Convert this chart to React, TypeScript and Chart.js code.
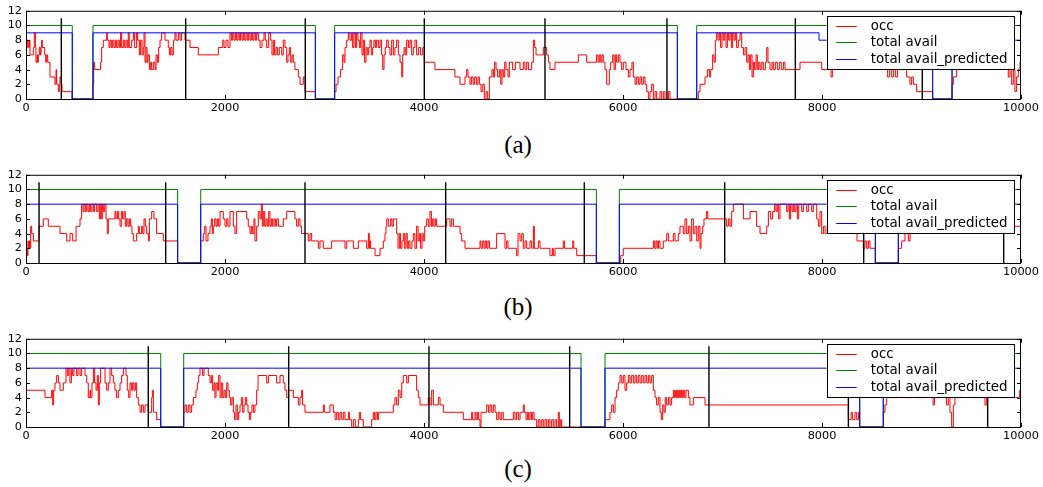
import React, { useEffect, useRef } from "react";
import { Chart, registerables } from "chart.js";

Chart.register(...registerables);

// ---------- data ----------
const seriesLabels = ["occ", "total avail", "total avail_predicted"];
const xTicks = [0, 2000, 4000, 6000, 8000, 10000];
const yTicks = [0, 2, 4, 6, 8, 10, 12];
const captions = ["(a)", "(b)", "(c)"];

// occupancy: [time, value] – value holds from time until next point
const occA: [number, number][] = [
  [0,7],[13,8],[23,7],[34,8],[40,6],[74,7],[84,9],[94,7],[100,5],[111,6],[117,5],[124,6],[134,7],[144,6],[151,7],[157,8],[164,7],
  [188,6],[198,5],[208,6],[218,5],[241,3],[291,2],[302,4],[308,2],[325,1],[335,2],[342,3],[355,2],[362,1],[462,0],
  [673,2],[680,5],[690,4],[750,5],[760,7],[777,8],[811,9],[817,8],[834,7],[844,8],[858,7],[871,8],[884,7],[898,8],[911,7],[925,8],
  [938,7],[951,9],[961,7],[978,8],[992,7],[1005,8],[1018,7],[1028,9],[1038,7],[1062,8],[1079,9],[1092,7],[1112,9],[1122,8],[1139,6],
  [1152,8],[1166,6],[1179,7],[1186,9],[1196,5],[1206,7],[1216,5],[1226,6],[1240,4],[1253,5],[1263,4],[1280,5],[1297,4],[1307,6],
  [1320,5],[1333,7],[1347,8],[1363,9],[1397,8],[1430,7],[1441,6],[1454,7],[1467,6],[1481,8],[1497,9],[1508,8],[1531,9],[1548,8],
  [1564,9],[1598,8],[1648,7],[1732,6],[1933,7],[1977,8],[1990,7],[2010,8],[2030,7],[2050,9],[2064,8],[2077,9],[2090,8],[2104,9],
  [2117,8],[2131,9],[2144,8],[2157,9],[2171,8],[2184,9],[2198,8],[2211,9],[2224,8],[2238,9],[2251,8],[2265,9],[2278,8],[2291,9],
  [2305,8],[2318,9],[2335,8],[2352,7],[2372,8],[2392,9],[2405,8],[2419,7],[2439,9],[2459,8],[2472,6],[2486,8],[2499,6],[2513,7],
  [2529,6],[2546,7],[2570,6],[2586,8],[2603,7],[2620,5],[2633,6],[2647,7],[2660,5],[2673,6],[2687,5],[2703,4],[2737,3],[2754,2],
  [2787,3],[2804,1],[2908,0],
  [3102,1],[3116,2],[3136,3],[3162,4],[3182,6],[3196,5],[3206,7],[3223,8],[3240,9],[3256,8],[3273,9],[3283,7],[3296,9],[3310,7],
  [3323,9],[3336,8],[3350,7],[3363,9],[3377,6],[3390,8],[3403,5],[3417,7],[3430,6],[3444,7],[3457,8],[3470,6],[3484,7],[3497,8],
  [3511,7],[3524,8],[3541,7],[3558,8],[3574,6],[3585,4],[3598,6],[3611,7],[3625,8],[3641,7],[3658,6],[3675,8],[3692,6],[3708,7],
  [3725,8],[3742,6],[3759,5],[3776,3],[3786,6],[3799,7],[3812,6],[3826,8],[3843,7],[3859,8],[3876,6],[3893,7],[3909,8],[3926,6],
  [3946,7],[3966,6],[3987,7],[4003,5],[4110,4],[4311,3],[4362,2],[4412,3],[4429,4],[4442,3],[4462,2],[4476,3],[4493,2],[4509,3],
  [4526,2],[4543,3],[4556,2],[4573,1],[4590,2],[4606,0],[4623,1],[4640,0],[4657,3],[4683,4],[4697,3],[4710,5],[4724,4],[4740,3],
  [4757,4],[4771,2],[4784,4],[4797,3],[4811,5],[4824,4],[4844,3],[4858,5],[4891,4],[4918,5],[4965,4],[4998,5],[5015,4],[5032,5],
  [5049,4],[5082,5],[5099,8],[5112,7],[5126,6],[5199,7],[5233,6],[5250,5],[5266,4],[5317,5],[5551,6],[5635,5],[5735,6],[5749,5],
  [5762,6],[5776,5],[5789,6],[5802,5],[5819,4],[5836,2],[5863,4],[5876,5],[5896,6],[5910,4],[5923,6],[5936,5],[5953,6],[5970,5],
  [5987,4],[6003,5],[6030,4],[6054,3],[6070,4],[6090,5],[6104,3],[6121,2],[6137,3],[6154,2],[6171,3],[6188,2],[6204,3],[6221,2],
  [6238,1],[6255,0],[6271,1],[6288,2],[6305,0],[6322,1],[6338,0],[6372,1],[6389,0],[6405,1],[6422,0],[6456,1],[6472,0],
  [6741,0],[6757,1],[6774,2],[6824,3],[6848,4],[6868,3],[6881,4],[6901,6],[6915,5],[6928,8],[6941,9],[6955,8],[6968,9],[6981,7],
  [6995,9],[7008,8],[7022,9],[7035,7],[7049,9],[7062,8],[7075,9],[7089,7],[7102,9],[7116,8],[7129,9],[7142,7],[7159,8],[7176,9],
  [7193,7],[7210,6],[7227,7],[7243,5],[7257,6],[7270,4],[7283,6],[7297,3],[7310,5],[7323,4],[7337,6],[7350,4],[7364,5],[7377,4],
  [7394,5],[7411,4],[7431,5],[7444,7],[7457,5],[7478,4],[7498,5],[7511,4],[7531,5],[7551,4],[7571,5],[7591,4],[7612,5],[7628,4],
  [7779,5],[7997,4],[8091,3],[8104,5],[8200,6],[8300,7],[8400,6],[8500,5],[8640,4],[8660,3],[8680,4],[8700,3],[8720,4],[8740,3],
  [8760,4],[8851,3],[8884,2],[8901,3],[8918,2],[8951,1],[9112,0],
  [9307,2],[9320,3],[9353,4],[9380,6],[9500,7],[9600,6],[9700,7],[9800,6],[9872,3],[9889,5],[9906,2],[9923,4],[9939,1],[9956,3],
  [9973,4],[9990,5],[10000,5],
];

const occB: [number, number][] = [
  [0,3],[7,2],[13,1],[20,3],[27,2],[34,3],[40,2],[47,5],[57,4],[74,3],[131,5],[174,6],[224,5],[342,4],[409,3],[442,4],[469,3],
  [503,5],[543,6],[559,8],[573,7],[583,8],[596,7],[610,8],[623,7],[637,8],[650,7],[663,8],[677,7],[690,8],[710,7],[724,8],[737,6],
  [747,8],[757,6],[767,8],[777,7],[791,8],[804,6],[817,4],[827,6],[894,7],[904,6],[918,7],[931,6],[945,5],[958,7],[971,6],[985,7],
  [998,5],[1012,6],[1025,5],[1039,6],[1052,5],[1065,4],[1079,3],[1112,4],[1129,5],[1139,4],[1162,5],[1173,4],[1186,6],[1199,5],
  [1213,4],[1230,3],[1240,6],[1263,7],[1286,6],[1313,4],[1380,3],[1524,0],
  [1755,3],[1782,4],[1796,5],[1809,3],[1829,4],[1849,5],[1863,6],[1873,4],[1883,5],[1896,6],[1910,5],[1923,6],[1936,5],[1950,7],
  [1983,6],[2000,5],[2017,6],[2030,5],[2050,7],[2084,5],[2100,4],[2117,7],[2218,6],[2234,5],[2251,4],[2265,5],[2278,4],[2291,6],
  [2301,3],[2318,5],[2335,7],[2352,6],[2365,8],[2375,5],[2385,7],[2399,5],[2412,6],[2425,5],[2439,7],[2452,5],[2466,6],[2479,5],
  [2492,6],[2506,5],[2519,6],[2536,5],[2586,6],[2620,7],[2703,6],[2720,5],[2737,6],[2754,5],[2770,4],[2837,3],[2854,4],[2871,3],
  [2938,2],[2955,3],[2988,2],[3072,3],[3206,2],[3223,3],[3290,2],[3340,3],[3424,2],[3441,4],[3451,2],[3457,3],[3464,2],[3508,1],
  [3558,2],[3591,3],[3608,4],[3618,5],[3625,6],[3641,5],[3665,6],[3678,5],[3692,6],[3725,4],[3739,2],[3752,4],[3765,2],[3779,3],
  [3792,4],[3806,2],[3819,4],[3832,2],[3846,3],[3859,2],[3879,3],[3893,4],[3909,2],[3926,5],[3940,3],[3953,4],[3966,2],[3980,4],
  [3993,3],[4007,5],[4027,6],[4043,5],[4060,7],[4074,5],[4087,6],[4100,5],[4114,6],[4127,5],[4228,6],[4261,5],[4278,6],[4295,5],
  [4362,4],[4379,3],[4412,2],[4563,3],[4573,2],[4590,3],[4603,2],[4616,3],[4630,2],[4643,3],[4657,2],[4730,4],[4814,2],[4831,3],
  [4844,2],[4931,1],[4945,4],[4965,3],[4982,4],[4998,2],[5015,3],[5032,2],[5065,3],[5082,2],[5099,5],[5109,2],[5149,3],[5166,2],
  [5266,1],[5290,2],[5300,1],[5317,2],[5400,3],[5411,2],[5495,3],[5505,2],[5535,1],[5732,0],
  [5963,0],[5977,1],[6003,2],[6305,3],[6318,2],[6332,3],[6345,2],[6358,3],[6372,2],[6405,3],[6439,4],[6456,3],[6506,4],[6523,3],
  [6556,4],[6573,5],[6606,4],[6623,6],[6640,4],[6657,5],[6673,3],[6690,6],[6707,4],[6724,5],[6741,3],[6757,5],[6774,2],[6784,4],
  [6801,5],[6814,6],[6838,7],[6852,6],[7042,5],[7059,6],[7075,5],[7092,7],[7109,8],[7210,6],[7277,7],[7343,5],[7377,4],[7444,5],
  [7461,7],[7484,6],[7504,7],[7524,8],[7538,7],[7551,8],[7565,6],[7578,8],[7645,7],[7659,8],[7672,6],[7685,8],[7699,7],[7712,8],
  [7726,7],[7739,8],[7752,6],[7766,8],[7796,7],[7813,8],[7846,7],[7863,8],[7896,7],[7913,8],[7947,6],[7963,5],[7980,7],[7997,4],
  [8014,5],[8031,4],[8050,5],[8150,6],[8250,5],[8300,4],[8352,3],[8415,2],[8432,3],[8449,2],[8466,3],[8482,2],[8536,0],
  [8767,2],[8801,3],[8834,4],[8868,3],[8885,5],[9000,6],[9200,5],[9400,6],[9600,5],[9800,6],[9924,5],[10000,5],
];

const occC: [number, number][] = [
  [0,5],[191,4],[258,5],[268,3],[278,5],[291,6],[308,7],[325,6],[342,5],[375,6],[402,8],[415,7],[429,8],[442,6],[456,8],[469,7],
  [482,8],[509,7],[523,8],[543,7],[559,8],[593,7],[610,6],[626,4],[643,5],[650,4],[663,6],[677,8],[690,6],[704,5],[717,7],[727,3],
  [737,6],[750,8],[794,6],[811,5],[827,6],[844,8],[861,7],[878,6],[894,5],[911,4],[928,5],[945,6],[961,7],[978,8],[1005,7],[1018,5],
  [1032,4],[1045,6],[1059,5],[1072,6],[1085,5],[1099,6],[1112,4],[1129,3],[1146,2],[1162,3],[1179,2],[1196,3],[1229,2],[1263,4],
  [1270,5],[1280,2],[1313,1],[1353,0],
  [1585,2],[1598,3],[1615,2],[1631,3],[1648,2],[1665,3],[1682,4],[1708,5],[1722,6],[1735,7],[1749,8],[1775,7],[1789,8],[1832,7],
  [1849,6],[1863,7],[1876,5],[1889,6],[1899,4],[1910,6],[1923,5],[1936,7],[1950,4],[1963,6],[1977,4],[1990,5],[2003,4],[2017,6],
  [2030,5],[2043,4],[2057,3],[2070,4],[2084,2],[2097,1],[2110,3],[2124,1],[2137,2],[2151,3],[2164,4],[2177,2],[2191,3],[2204,4],
  [2218,3],[2231,2],[2245,1],[2258,2],[2271,3],[2285,2],[2301,3],[2318,5],[2332,7],[2419,6],[2436,7],[2519,6],[2553,7],[2586,6],
  [2603,5],[2620,4],[2640,5],[2687,4],[2737,3],[2754,4],[2770,5],[2780,3],[2804,2],[2988,3],[2998,2],[3055,3],[3089,2],[3106,1],
  [3122,2],[3139,1],[3156,2],[3173,1],[3189,2],[3206,1],[3240,2],[3250,1],[3273,0],[3290,1],[3310,0],[3340,1],[3350,2],[3363,1],
  [3390,0],[3474,1],[3491,2],[3504,1],[3517,2],[3531,1],[3544,2],[3692,3],[3708,4],[3725,3],[3742,5],[3759,4],[3776,6],[3792,7],
  [3826,6],[3843,7],[3926,5],[3943,4],[3960,3],[4043,4],[4060,3],[4077,5],[4094,3],[4144,4],[4161,3],[4194,2],[4395,1],[4479,2],
  [4489,1],[4513,2],[4523,1],[4536,2],[4549,1],[4563,0],[4573,2],[4630,3],[4647,2],[4663,3],[4680,2],[4697,3],[4714,2],[4730,1],
  [4747,2],[4764,1],[4781,2],[4797,1],[4898,2],[4915,1],[4931,2],[4948,1],[4965,2],[4998,3],[5008,2],[5025,1],[5039,2],[5052,1],
  [5065,2],[5079,1],[5092,2],[5106,1],[5132,0],[5149,1],[5166,0],[5183,1],[5199,0],[5216,1],[5233,0],[5250,1],[5266,0],[5283,1],
  [5300,0],[5317,1],[5333,0],[5350,2],[5360,0],[5374,1],[5384,0],
  [5819,1],[5869,2],[5886,3],[5903,2],[5920,4],[5936,5],[5953,6],[5970,7],[5987,6],[6003,7],[6020,5],[6037,6],[6054,7],[6070,6],
  [6087,7],[6104,6],[6121,7],[6137,6],[6154,7],[6171,6],[6188,7],[6204,6],[6221,7],[6238,6],[6255,7],[6271,6],[6288,7],[6305,5],
  [6322,4],[6338,3],[6355,4],[6372,2],[6385,1],[6399,3],[6412,2],[6425,4],[6439,3],[6456,4],[6472,3],[6489,4],[6506,5],[6516,4],
  [6526,5],[6536,4],[6546,5],[6556,4],[6566,5],[6576,4],[6586,5],[6596,4],[6606,5],[6620,4],[6633,5],[6657,4],[6673,3],[6707,4],
  [6824,3],[8265,1],[8292,2],[8305,1],[8332,2],[8349,1],[8366,2],[8379,0],
  [8616,2],[8633,3],[8650,4],[8750,5],[8800,4],[8900,5],[8950,4],[9050,5],[9100,4],[9117,3],[9130,4],[9200,5],[9252,3],[9269,4],
  [9286,2],[9303,0],[9320,3],[9336,4],[9400,5],[9500,4],[9638,3],[9655,4],[9700,5],[9800,4],[9987,5],[10000,5],
];

// total availability and predicted availability: [time, value]
const availA: [number, number][] = [[0,10],[465,0],[673,10],[2908,0],[3102,10],[6546,0],[6741,10],[9112,0],[9307,10],[10000,10]];
const predA: [number, number][] = [[0,9],[465,0],[673,9],[2908,0],[3102,9],[6546,0],[6741,9],[7970,8],[9112,0],[9307,8],[10000,8]];
const availB: [number, number][] = [[0,10],[1524,0],[1756,10],[5732,0],[5963,10],[8536,0],[8767,10],[10000,10]];
const predB: [number, number][] = [[0,8],[1524,0],[1756,8],[5732,0],[5963,8],[8536,0],[8767,8],[10000,8]];
const availC: [number, number][] = [[0,10],[1354,0],[1585,10],[5578,0],[5819,10],[8379,0],[8616,10],[10000,10]];
const predC: [number, number][] = [[0,8],[1354,0],[1585,8],[5578,0],[5819,8],[8379,0],[8616,8],[10000,8]];

// vertical black markers (time) with their height
const markersA = [355, 1605, 2807, 4003, 5216, 6442, 7732, 9008];
const markersB = [131, 1404, 2804, 4218, 5611, 7022, 8419, 9826];
const markersC = [1229, 2640, 4050, 5464, 6864, 8265, 9665];
const markerHeight = 11;

// ---------- style ----------
const COLORS = { occ: "#ff0000", avail: "#008000", pred: "#0000ff", marker: "#000000" };
const TICK_FONT = { family: "DejaVu Sans", size: 11.3 };

const framePlugin = {
  id: "frame",
  afterDraw(chart: any) {
    const { ctx, chartArea, scales } = chart;
    const { left, right, top, bottom } = chartArea;
    ctx.save();
    ctx.strokeStyle = "#000";
    ctx.lineWidth = 1;
    ctx.strokeRect(left + 0.5, top + 0.5, right - left - 1, bottom - top);
    const tl = 4;
    ctx.beginPath();
    for (const v of xTicks) {
      const px = Math.round(scales.x.getPixelForValue(v)) + 0.5;
      ctx.moveTo(px, bottom);
      ctx.lineTo(px, bottom - tl);
      ctx.moveTo(px, top);
      ctx.lineTo(px, top + tl);
    }
    for (const v of yTicks) {
      const py = Math.round(scales.y.getPixelForValue(v)) + 0.5;
      ctx.moveTo(left, py);
      ctx.lineTo(left + tl, py);
      ctx.moveTo(right, py);
      ctx.lineTo(right - tl, py);
    }
    ctx.stroke();

    // legend box
    const bw = 187.3, bh = 53;
    const bx = right - 7 - bw;
    const by = top + 5;
    ctx.fillStyle = "#fff";
    ctx.fillRect(bx, by, bw, bh);
    ctx.strokeStyle = "#000";
    ctx.strokeRect(Math.round(bx) + 0.5, Math.round(by) + 0.5, Math.round(bw), Math.round(bh));
    const cols = [COLORS.occ, COLORS.avail, COLORS.pred];
    ctx.font = "13.4px 'DejaVu Sans'";
    ctx.textBaseline = "middle";
    ctx.textAlign = "left";
    seriesLabels.forEach((lab, i) => {
      const ry = Math.round(by + 10 + i * 16.4) + 0.5;
      ctx.strokeStyle = cols[i];
      ctx.lineWidth = 1;
      ctx.beginPath();
      ctx.moveTo(bx + 9.5, ry);
      ctx.lineTo(bx + 30, ry);
      ctx.stroke();
      ctx.fillStyle = "#000";
      ctx.fillText(lab, bx + 44, ry);
    });
    ctx.restore();
  },
};

function toPts(arr: [number, number][]) {
  return arr.map(([x, y]) => ({ x, y }));
}

function Panel(props: {
  occ: [number, number][];
  avail: [number, number][];
  pred: [number, number][];
  markers: number[];
  top: number;
}) {
  const ref = useRef<HTMLCanvasElement>(null);
  useEffect(() => {
    if (!ref.current) return;
    const markerSets = props.markers.map((m) => ({
      label: "marker",
      data: [{ x: m, y: 0 }, { x: m, y: markerHeight }],
      borderColor: COLORS.marker,
      borderWidth: 1.4,
      pointRadius: 0,
      order: 0,
    }));
    const chart = new Chart(ref.current, {
      type: "line",
      data: {
        datasets: [
          ...markerSets,
          { label: seriesLabels[2], data: toPts(props.pred), borderColor: COLORS.pred, borderWidth: 1, pointRadius: 0, stepped: "before", order: 1 },
          { label: seriesLabels[1], data: toPts(props.avail), borderColor: COLORS.avail, borderWidth: 1, pointRadius: 0, stepped: "before", order: 2 },
          { label: seriesLabels[0], data: toPts(props.occ), borderColor: COLORS.occ, borderWidth: 1, pointRadius: 0, stepped: "before", order: 3 },
        ] as any,
      },
      options: {
        animation: false,
        responsive: false,
        events: [],
        layout: { padding: { top: 9, right: 22, left: 0, bottom: 0 } },
        plugins: { legend: { display: false }, tooltip: { enabled: false } },
        scales: {
          x: {
            type: "linear",
            min: 0,
            max: 10000,
            afterBuildTicks: (s: any) => { s.ticks = xTicks.map((v) => ({ value: v })); },
            ticks: { font: TICK_FONT, color: "#000", padding: 2, maxRotation: 0, autoSkip: false, callback: (v: any) => String(v) },
            grid: { display: false, drawTicks: false },
            border: { display: false },
            afterFit: (s: any) => { s.height = 21; },
          },
          y: {
            min: 0,
            max: 12,
            afterBuildTicks: (s: any) => { s.ticks = yTicks.map((v) => ({ value: v })); },
            ticks: { font: TICK_FONT, color: "#000", padding: 4, autoSkip: false, callback: (v: any) => String(v) },
            grid: { display: false, drawTicks: false },
            border: { display: false },
            afterFit: (s: any) => { s.width = 26; },
          },
        },
      } as any,
      plugins: [framePlugin],
    });
    return () => chart.destroy();
  }, []);
  return (
    <canvas
      ref={ref}
      width={1043}
      height={120}
      style={{ position: "absolute", left: 0, top: props.top, width: 1043, height: 120 }}
    />
  );
}

const captionTops = [131, 293, 455];

export default function App() {
  const panels = [
    { occ: occA, avail: availA, pred: predA, markers: markersA, top: 0 },
    { occ: occB, avail: availB, pred: predB, markers: markersB, top: 164 },
    { occ: occC, avail: availC, pred: predC, markers: markersC, top: 328 },
  ];
  return (
    <div style={{ position: "absolute", left: 0, top: 0, width: 1043, height: 487, background: "#fff", overflow: "hidden" }}>
      {panels.map((p, i) => (
        <Panel key={i} {...p} />
      ))}
      {captions.map((c, i) => (
        <div
          key={c}
          style={{
            position: "absolute",
            left: 418,
            width: 200,
            top: captionTops[i],
            textAlign: "center",
            fontFamily: "'Liberation Serif', serif",
            fontSize: 25,
            lineHeight: "28px",
            color: "#000",
          }}
        >
          {c}
        </div>
      ))}
    </div>
  );
}
